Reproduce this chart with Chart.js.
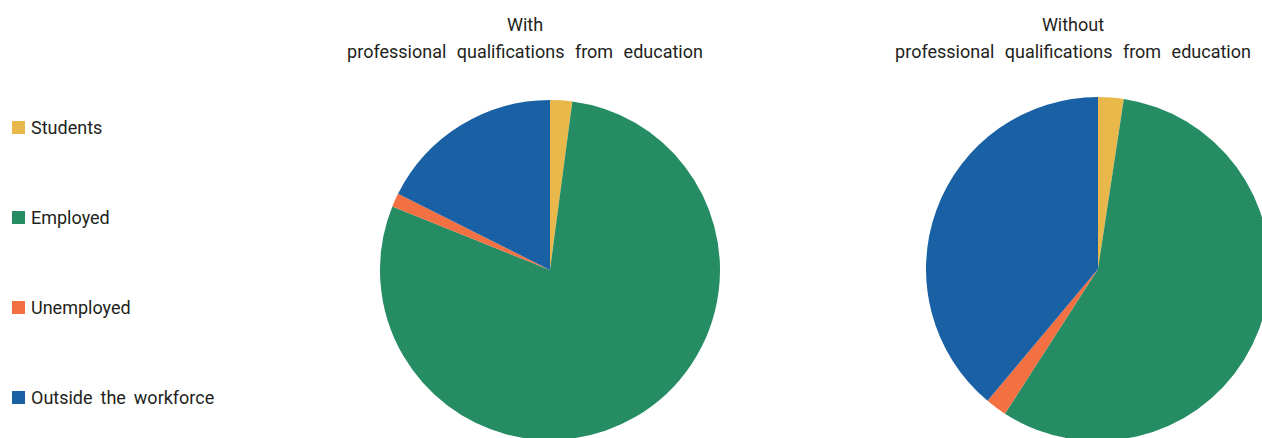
<!DOCTYPE html>
<html>
<head>
<meta charset="utf-8">
<script src="https://cdn.jsdelivr.net/npm/chart.js@4"></script>
<style>
  html, body { margin:0; padding:0; background:#fff; overflow:hidden; }
  #wrap { position:relative; width:1262px; height:438px; overflow:hidden; font-family:Roboto,"Open Sans",sans-serif; color:#231f20; }
  .title { position:absolute; text-align:center; font-size:18px; line-height:27px; word-spacing:6px; white-space:nowrap; }
  .pie { position:absolute; }
  #legend { position:absolute; left:12px; top:0; }
  .li { position:absolute; white-space:nowrap; font-size:18px; word-spacing:3.5px; display:flex; align-items:center; }
  .sw { width:13px; height:13px; margin-right:6px; display:inline-block; }
</style>
</head>
<body>
<div id="wrap">
  <div class="title" id="t1" style="left:325px; width:400px; top:11px;"></div>
  <div class="title" id="t2" style="left:873px; width:400px; top:11px;"></div>
  <canvas class="pie" id="c1" style="left:380px; top:100px;" width="340" height="340"></canvas>
  <canvas class="pie" id="c2" style="left:926px; top:97px;" width="344" height="344"></canvas>
  <div id="legend"></div>
</div>
<script>
const categories = ["Students", "Employed", "Unemployed", "Outside the workforce"];
const withQual = [2.1, 79.0, 1.3, 17.6];
const withoutQual = [2.4, 56.7, 2.0, 38.9];
const colors = ["#E8B84B", "#258C64", "#F27042", "#1960A4"];
const titles = [["With", "professional  qualifications  from  education"],
                ["Without", "professional  qualifications  from  education"]];

document.getElementById('t1').innerHTML = titles[0].join('<br>');
document.getElementById('t2').innerHTML = titles[1].join('<br>');

const legend = document.getElementById('legend');
const legendTops = [117, 207, 297, 387];
categories.forEach((c, i) => {
  const d = document.createElement('div');
  d.className = 'li';
  d.style.top = legendTops[i] + 'px';
  d.innerHTML = '<span class="sw" style="background:' + colors[i] + '"></span><span>' + c + '</span>';
  legend.appendChild(d);
});

function makePie(id, data) {
  new Chart(document.getElementById(id), {
    type: 'pie',
    data: { labels: categories, datasets: [{ data: data, backgroundColor: colors, borderWidth: 0 }] },
    options: {
      responsive: false,
      animation: false,
      layout: { padding: 0 },
      plugins: { legend: { display: false }, tooltip: { enabled: false }, title: { display: false } }
    }
  });
}
makePie('c1', withQual);
makePie('c2', withoutQual);
</script>
</body>
</html>
